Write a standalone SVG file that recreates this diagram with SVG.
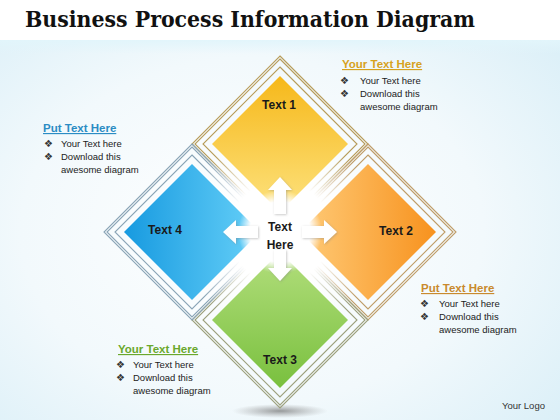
<svg xmlns="http://www.w3.org/2000/svg" width="560" height="420" viewBox="0 0 560 420">
<defs>
<radialGradient id="bg" cx="0.45" cy="0.55" r="0.75">
<stop offset="0" stop-color="#ffffff"/>
<stop offset="0.55" stop-color="#f2f9fc"/>
<stop offset="1" stop-color="#d8eef7"/>
</radialGradient>
<linearGradient id="band" x1="0" y1="0" x2="0" y2="1">
<stop offset="0" stop-color="#e2f5fb"/>
<stop offset="1" stop-color="#e2f5fb" stop-opacity="0"/>
</linearGradient>
<linearGradient id="gY" x1="0" y1="0" x2="0" y2="1">
<stop offset="0" stop-color="#f6b81a"/>
<stop offset="1" stop-color="#fde27e"/>
</linearGradient>
<linearGradient id="gO" x1="0" y1="0" x2="1" y2="0">
<stop offset="0" stop-color="#ffcb78"/>
<stop offset="1" stop-color="#f7921e"/>
</linearGradient>
<linearGradient id="gB" x1="0" y1="0" x2="1" y2="0">
<stop offset="0" stop-color="#179ae0"/>
<stop offset="1" stop-color="#66d0f8"/>
</linearGradient>
<linearGradient id="gG" x1="0" y1="0" x2="0" y2="1">
<stop offset="0" stop-color="#b2de7c"/>
<stop offset="1" stop-color="#79c03e"/>
</linearGradient>
<radialGradient id="glow" cx="280" cy="232" r="100" gradientUnits="userSpaceOnUse">
<stop offset="0" stop-color="#ffffff"/>
<stop offset="0.5" stop-color="#ffffff"/>
<stop offset="1" stop-color="#ffffff" stop-opacity="0"/>
</radialGradient>
<radialGradient id="core" cx="280" cy="232" r="42" gradientUnits="userSpaceOnUse">
<stop offset="0" stop-color="#ffffff"/>
<stop offset="0.72" stop-color="#ffffff"/>
<stop offset="1" stop-color="#ffffff" stop-opacity="0"/>
</radialGradient>
<radialGradient id="shadow" cx="0.5" cy="0.5" r="0.5">
<stop offset="0" stop-color="#707070" stop-opacity="0.7"/>
<stop offset="1" stop-color="#909090" stop-opacity="0"/>
</radialGradient>
<filter id="ds" x="-30%" y="-30%" width="160%" height="160%">
<feDropShadow dx="0.8" dy="0.8" stdDeviation="1.2" flood-color="#808080" flood-opacity="0.45"/>
</filter>
</defs>
<style>
.ln{fill:none;stroke-width:1.1}
.lY{stroke:#b79c5a}
.lO{stroke:#bf9d68}
.lB{stroke:#8aa4b6}
.lG{stroke:#9ca07c}
.lab{font-family:"Liberation Sans",Arial,sans-serif;font-weight:bold;font-size:12px;fill:#1a1a1a;text-anchor:middle}
.hd{font-family:"Liberation Sans",Arial,sans-serif;font-weight:bold;font-size:11.5px;text-decoration:underline}
.bt{font-family:"Liberation Sans",Arial,sans-serif;font-size:9.5px;fill:#222222}
.bu{font-family:"DejaVu Sans",sans-serif;font-size:10px;fill:#333333}
.arr{fill:#ffffff;filter:url(#ds)}
</style>
<rect width="560" height="420" fill="url(#bg)"/>
<rect y="40" width="560" height="14" fill="url(#band)"/>
<rect width="560" height="40" fill="#ffffff"/>
<text x="250" y="27" text-anchor="middle" font-family="DejaVu Serif,serif" font-weight="bold" font-size="22" fill="#111111" textLength="450" lengthAdjust="spacingAndGlyphs">Business Process Information Diagram</text>
<ellipse cx="280" cy="411" rx="48" ry="7" fill="url(#shadow)"/>
<g id="outlines">
<g class="ln lY"><polygon points="280,56 368,144 280,232 192,144"/><polygon points="280,59 365,144 280,229 195,144"/><polygon points="280,67 357,144 280,221 203,144"/></g>
<g class="ln lO"><polygon points="368,144 456,232 368,320 280,232"/><polygon points="368,147 453,232 368,317 283,232"/><polygon points="368,155 445,232 368,309 291,232"/></g>
<g class="ln lG"><polygon points="280,232 368,320 280,408 192,320"/><polygon points="280,235 365,320 280,405 195,320"/><polygon points="280,243 357,320 280,397 203,320"/></g>
<g class="ln lB"><polygon points="192,144 280,232 192,320 104,232"/><polygon points="192,147 277,232 192,317 107,232"/><polygon points="192,155 269,232 192,309 115,232"/></g>
</g>
<circle cx="280" cy="232" r="100" fill="url(#glow)"/>
<g id="tile1"><polygon points="280,76 348,144 280,212 212,144" fill="url(#gY)"/></g>
<g id="tile2"><polygon points="368,164 436,232 368,300 300,232" fill="url(#gO)"/></g>
<g id="tile3"><polygon points="280,252 348,320 280,388 212,320" fill="url(#gG)"/></g>
<g id="tile4"><polygon points="192,164 260,232 192,300 124,232" fill="url(#gB)"/></g>
<circle cx="280" cy="232" r="42" fill="url(#core)"/>
<g id="connectors">
<polygon class="arr" points="280,177 292,190 286,190 286,214 274,214 274,190 268,190"/>
<polygon class="arr" points="280,281 292,268 286,268 286,250 274,250 274,268 268,268"/>
<polygon class="arr" points="223,232 236,220 236,226 258,226 258,238 236,238 236,244"/>
<polygon class="arr" points="337,232 324,220 324,226 302,226 302,238 324,238 324,244"/>
</g>
<g id="center">
<text class="lab" x="280" y="231" font-size="14">Text</text>
<text class="lab" x="280" y="249" font-size="14">Here</text>
</g>
<g id="labels">
<text class="lab" x="279" y="109">Text 1</text>
<text class="lab" x="396" y="235">Text 2</text>
<text class="lab" x="280" y="364">Text 3</text>
<text class="lab" x="165" y="234">Text 4</text>
</g>
<g id="note1">
<text class="hd" x="342" y="68" fill="#d6a21e">Your Text Here</text>
<text class="bu" x="340" y="84">❖</text><text class="bt" x="360" y="84">Your Text here</text>
<text class="bu" x="340" y="97">❖</text><text class="bt" x="360" y="97">Download this</text>
<text class="bt" x="360" y="110">awesome diagram</text>
</g>
<g id="note4">
<text class="hd" x="43" y="132" fill="#2b8cc4">Put Text Here</text>
<text class="bu" x="44" y="147">❖</text><text class="bt" x="61" y="147">Your Text here</text>
<text class="bu" x="44" y="160">❖</text><text class="bt" x="61" y="160">Download this</text>
<text class="bt" x="61" y="173">awesome diagram</text>
</g>
<g id="note2">
<text class="hd" x="421" y="292" fill="#c98a2e">Put Text Here</text>
<text class="bu" x="420" y="307">❖</text><text class="bt" x="439" y="307">Your Text here</text>
<text class="bu" x="420" y="320">❖</text><text class="bt" x="439" y="320">Download this</text>
<text class="bt" x="439" y="333">awesome diagram</text>
</g>
<g id="note3">
<text class="hd" x="118" y="353" fill="#6aa82c">Your Text Here</text>
<text class="bu" x="116" y="368">❖</text><text class="bt" x="133" y="368">Your Text here</text>
<text class="bu" x="116" y="381">❖</text><text class="bt" x="133" y="381">Download this</text>
<text class="bt" x="133" y="394">awesome diagram</text>
</g>
<text x="502" y="409" font-family="Liberation Sans,Arial,sans-serif" font-size="9.5" fill="#333333">Your Logo</text>
</svg>
